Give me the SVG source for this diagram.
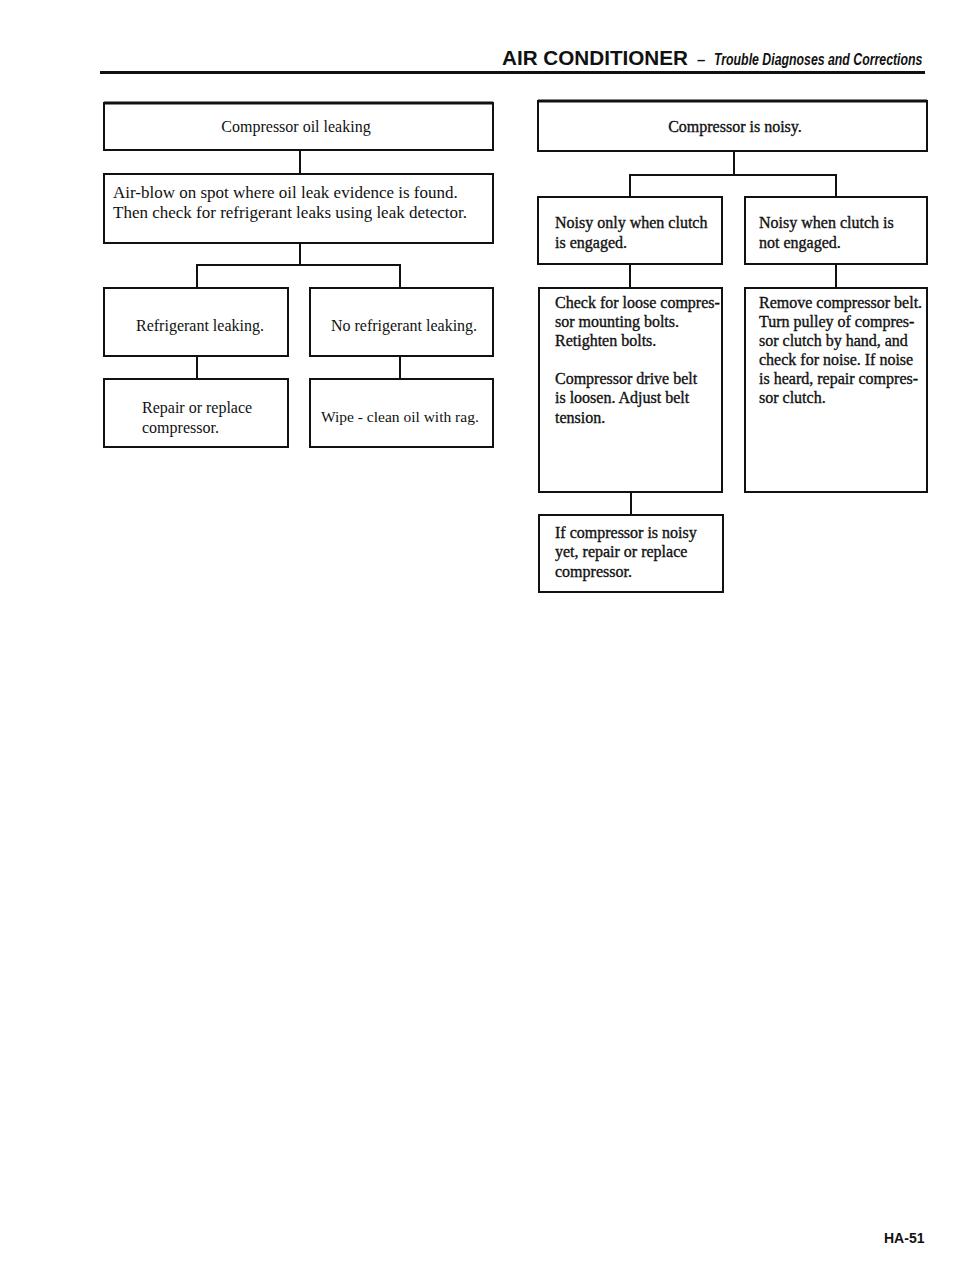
<svg xmlns="http://www.w3.org/2000/svg" width="960" height="1272" viewBox="0 0 960 1272">
<style>
.box{fill:#fff;stroke:#111;stroke-width:2}
.top{fill:none;stroke:#111;stroke-width:3}
.c{fill:none;stroke:#111;stroke-width:2}
.t{font-family:"Liberation Serif","Times New Roman",serif;font-size:16px;fill:#111}
.t17{font-size:17px}
.t155{font-size:15.5px}
.b{stroke:#111;stroke-width:0.35}
.hd{font-family:"Liberation Sans",Arial,sans-serif;fill:#111}
</style>
<rect width="960" height="1272" fill="#fff"/>
<g id="header">
<text class="hd" x="502" y="65" font-size="20" font-weight="bold" textLength="186" lengthAdjust="spacingAndGlyphs">AIR CONDITIONER</text>
<text class="hd" x="697" y="65" font-size="15" font-weight="bold">–</text>
<text class="hd" transform="translate(714,65) scale(0.77,1)" x="0" y="0" font-size="16" font-style="italic" font-weight="bold">Trouble Diagnoses and Corrections</text>
<line x1="100" y1="72.5" x2="925" y2="72.5" stroke="#111" stroke-width="3"/>
</g>
<g id="connectors">
<path class="c" d="M300 150V174"/>
<path class="c" d="M300 243V265M197 265H400M197 264V288M400 264V288"/>
<path class="c" d="M197 356V379M400 356V379"/>
<path class="c" d="M734 151V175M630 175H836M630 174V197M836 174V197"/>
<path class="c" d="M630 264V288M836 264V288"/>
<path class="c" d="M631 492V515"/>
</g>
<g id="n1">
<rect class="box" x="104" y="103" width="389" height="47"/>
<line class="top" x1="104" y1="103" x2="493" y2="103"/>
<text class="t" x="296" y="132" text-anchor="middle">Compressor oil leaking</text>
</g>
<g id="n2">
<rect class="box" x="104" y="174" width="389" height="69"/>
<text class="t t17" x="113" y="198">Air-blow on spot where oil leak evidence is found.</text>
<text class="t t17" x="113" y="218">Then check for refrigerant leaks using leak detector.</text>
</g>
<g id="n3">
<rect class="box" x="104" y="288" width="184" height="68"/>
<text class="t" x="200" y="331" text-anchor="middle">Refrigerant leaking.</text>
</g>
<g id="n4">
<rect class="box" x="310" y="288" width="183" height="68"/>
<text class="t" x="404" y="331" text-anchor="middle">No refrigerant leaking.</text>
</g>
<g id="n5">
<rect class="box" x="104" y="379" width="184" height="68"/>
<text class="t" x="142" y="413">Repair or replace</text>
<text class="t" x="142" y="433">compressor.</text>
</g>
<g id="n6">
<rect class="box" x="310" y="379" width="183" height="68"/>
<text class="t t155" x="321" y="422">Wipe - clean oil with rag.</text>
</g>
<g id="r1">
<rect class="box" x="538" y="101" width="389" height="50"/>
<line class="top" x1="538" y1="101" x2="927" y2="101"/>
<text class="t b" x="735" y="132" text-anchor="middle">Compressor is noisy.</text>
</g>
<g id="r2">
<rect class="box" x="538" y="197" width="184" height="67"/>
<text class="t b" x="555" y="228">Noisy only when clutch</text>
<text class="t b" x="555" y="248">is engaged.</text>
</g>
<g id="r3">
<rect class="box" x="745" y="197" width="182" height="67"/>
<text class="t b" x="759" y="228">Noisy when clutch is</text>
<text class="t b" x="759" y="248">not engaged.</text>
</g>
<g id="r4">
<rect class="box" x="539" y="288" width="183" height="204"/>
<text class="t b" x="555" y="308">Check for loose compres-</text>
<text class="t b" x="555" y="327">sor mounting bolts.</text>
<text class="t b" x="555" y="346">Retighten bolts.</text>
<text class="t b" x="555" y="384">Compressor drive belt</text>
<text class="t b" x="555" y="403">is loosen.  Adjust belt</text>
<text class="t b" x="555" y="423">tension.</text>
</g>
<g id="r5">
<rect class="box" x="745" y="288" width="182" height="204"/>
<text class="t b" x="759" y="308">Remove compressor belt.</text>
<text class="t b" x="759" y="327">Turn pulley of compres-</text>
<text class="t b" x="759" y="346">sor clutch by hand, and</text>
<text class="t b" x="759" y="365">check for noise.  If noise</text>
<text class="t b" x="759" y="384">is heard, repair compres-</text>
<text class="t b" x="759" y="403">sor clutch.</text>
</g>
<g id="r6">
<rect class="box" x="539" y="515" width="184" height="77"/>
<text class="t b" x="555" y="538">If compressor is noisy</text>
<text class="t b" x="555" y="557">yet, repair or replace</text>
<text class="t b" x="555" y="577">compressor.</text>
</g>
<g id="footer">
<text class="hd" x="884" y="1243" font-size="14" font-weight="bold">HA-51</text>
</g>
</svg>
